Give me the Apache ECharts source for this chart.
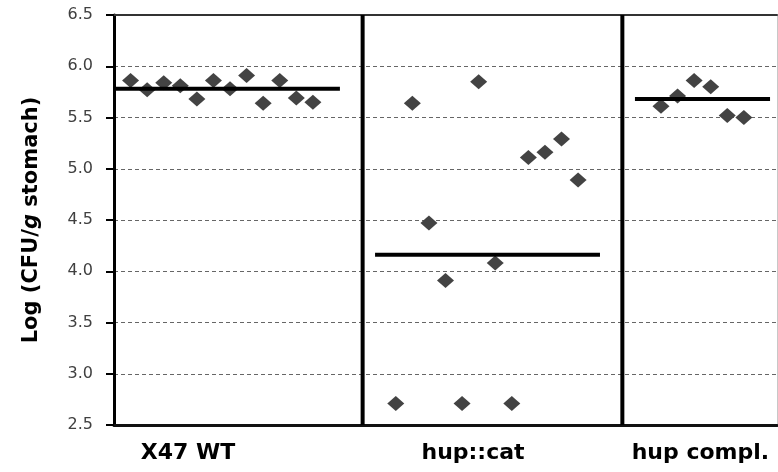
<!DOCTYPE html>
<html>
<head>
<meta charset="utf-8">
<script src="https://cdn.jsdelivr.net/npm/echarts@6/dist/echarts.min.js"></script>
<style>html,body{margin:0;padding:0;background:#fff}#c{width:778px;height:472px}</style>
</head>
<body>
<div id="c"></div>
<script>
// ---- data ----
const groupNames = ['X47 WT', 'hup::cat', 'hup compl.'];
const yTicks = [2.5, 3.0, 3.5, 4.0, 4.5, 5.0, 5.5, 6.0, 6.5];
const wtX = [1, 2, 3, 4, 5, 6, 7, 8, 9, 10, 11, 12];
const wtY = [5.86, 5.77, 5.84, 5.81, 5.68, 5.86, 5.78, 5.91, 5.64, 5.86, 5.69, 5.65];
const wtMean = 5.78;
const hupX = [17, 18, 19, 20, 21, 22, 23, 24, 25, 26, 27, 28];
const hupY = [2.71, 5.64, 4.47, 3.91, 2.71, 5.85, 4.08, 2.71, 5.11, 5.16, 5.29, 4.89];
const hupMean = 4.16;
const complX = [33, 34, 35, 36, 37, 38];
const complY = [5.61, 5.71, 5.86, 5.80, 5.52, 5.50];
const complMean = 5.68;

// ---- layout (axis units) ----
const xMin = 0, xMax = 40;
const labelPos = [4.46, 21.66, 35.38];
const separators = [15, 30.67];
const meanSpans = [[0, 13.63], [15.75, 29.32], [31.43, 39.58]];
const means = [wtMean, hupMean, complMean];

const zip = (xs, ys) => xs.map((x, i) => [x, ys[i]]);
const markerColor = '#434343';

const series = [];
[[wtX, wtY], [hupX, hupY], [complX, complY]].forEach(([xs, ys]) => {
  series.push({
    type: 'scatter', symbol: 'diamond', symbolSize: [17, 15],
    itemStyle: { color: markerColor, opacity: 1 }, data: zip(xs, ys), z: 3
  });
});
means.forEach((m, i) => {
  series.push({
    type: 'line', symbol: 'none', silent: true, z: 4,
    lineStyle: { color: '#000', width: 4 },
    data: [[meanSpans[i][0], m], [meanSpans[i][1], m]]
  });
});
separators.forEach(s => {
  series.push({
    type: 'line', symbol: 'none', silent: true, z: 4,
    lineStyle: { color: '#000', width: 4 },
    data: [[s, yTicks[0]], [s, yTicks[yTicks.length - 1]]]
  });
});

const chart = echarts.init(document.getElementById('c'), null, { renderer: 'canvas' });
chart.setOption({
  animation: false,
  backgroundColor: '#fff',
  grid: { left: 114, right: 1, top: 15, bottom: 47, containLabel: false },
  xAxis: [{
    type: 'value', min: xMin, max: xMax, position: 'bottom',
    axisLine: { show: true, onZero: false, lineStyle: { color: '#111', width: 3 } },
    axisTick: { show: false },
    splitLine: { show: false },
    axisLabel: {
      show: true, customValues: labelPos, margin: 17,
      formatter: v => groupNames[labelPos.indexOf(v)] || '',
      fontFamily: 'DejaVu Sans', fontWeight: 'bold', fontSize: 22, color: '#000'
    }
  }, {
    type: 'value', min: xMin, max: xMax, position: 'top',
    axisLine: { show: true, onZero: false, lineStyle: { color: '#333', width: 2 } },
    axisTick: { show: false }, axisLabel: { show: false }, splitLine: { show: false }
  }],
  yAxis: [{
    type: 'value', min: 2.5, max: 6.5, interval: 0.5, position: 'left',
    axisLine: { show: true, onZero: false, lineStyle: { color: '#000', width: 3 } },
    axisTick: { show: true, inside: false, length: 8, lineStyle: { color: '#000', width: 2 } },
    splitLine: { show: true, lineStyle: { color: '#666', width: 1, type: [4, 3] } },
    axisLabel: {
      margin: 21, formatter: v => v.toFixed(1),
      fontFamily: 'DejaVu Sans', fontSize: 16, color: '#404040'
    },
    name: '{b|Log (CFU/}{i|g}{b| stomach)}',
    nameLocation: 'middle', nameRotate: 90, nameGap: 72,
    nameTextStyle: {
      rich: {
        b: { fontFamily: 'DejaVu Sans', fontWeight: 'bold', fontSize: 21, color: '#000' },
        i: { fontFamily: 'DejaVu Sans', fontWeight: 'bold', fontStyle: 'italic', fontSize: 21, color: '#000' }
      }
    }
  }, {
    type: 'value', min: 2.5, max: 6.5, position: 'right',
    axisLine: { show: true, onZero: false, lineStyle: { color: '#c8c8c8', width: 1 } },
    axisTick: { show: false }, axisLabel: { show: false }, splitLine: { show: false }
  }],
  series: series
});
</script>
</body>
</html>
